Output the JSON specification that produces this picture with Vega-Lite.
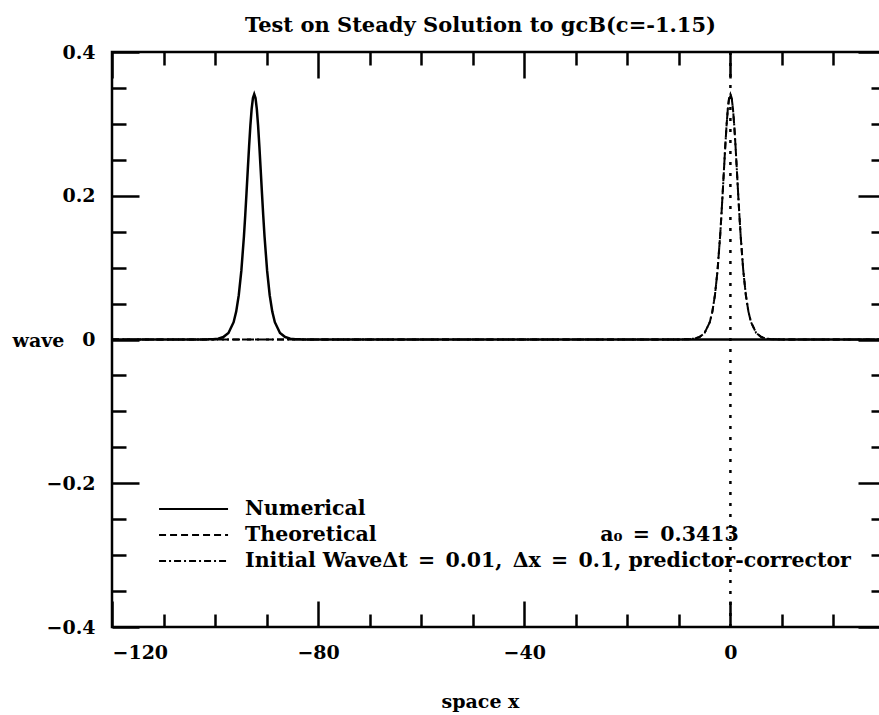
{
  "$schema": "https://vega.github.io/schema/vega-lite/v6.json",
  "width": 773,
  "height": 575,
  "autosize": {"type": "none"},
  "padding": {"left": 112, "top": 52, "right": 0, "bottom": 88},
  "background": "white",
  "config": {
    "view": {"stroke": "black", "strokeWidth": 2.5},
    "font": "DejaVu Serif",
    "axis": {
      "domain": false,
      "grid": false,
      "tickColor": "black",
      "tickWidth": 2.5,
      "labelFont": "DejaVu Serif",
      "labelFontWeight": "bold",
      "labelFontSize": 19,
      "labelColor": "black",
      "titleFont": "DejaVu Serif",
      "titleFontWeight": "bold",
      "titleFontSize": 19,
      "titleColor": "black"
    }
  },
  "title": {
    "text": "Test on Steady Solution to gcB(c=-1.15)",
    "font": "DejaVu Serif",
    "fontSize": 21,
    "fontWeight": "bold",
    "color": "black",
    "anchor": "middle",
    "baseline": "bottom",
    "offset": 16,
    "dx": -18,
    "dy": 30
  },
  "datasets": {
    "curves": [
      {"series": "Numerical", "x": -120, "wave": 0},
      {"series": "Numerical", "x": -102.4, "wave": 0.0001},
      {"series": "Numerical", "x": -101.4, "wave": 0.0002},
      {"series": "Numerical", "x": -100.4, "wave": 0.0005},
      {"series": "Numerical", "x": -99.4, "wave": 0.0012},
      {"series": "Numerical", "x": -98.4, "wave": 0.0034},
      {"series": "Numerical", "x": -97.4, "wave": 0.0091},
      {"series": "Numerical", "x": -96.4, "wave": 0.0241},
      {"series": "Numerical", "x": -95.9, "wave": 0.0388},
      {"series": "Numerical", "x": -95.4, "wave": 0.0617},
      {"series": "Numerical", "x": -94.9, "wave": 0.0957},
      {"series": "Numerical", "x": -94.4, "wave": 0.1433},
      {"series": "Numerical", "x": -94.15, "wave": 0.1722},
      {"series": "Numerical", "x": -93.9, "wave": 0.2036},
      {"series": "Numerical", "x": -93.65, "wave": 0.2363},
      {"series": "Numerical", "x": -93.4, "wave": 0.2684},
      {"series": "Numerical", "x": -93.15, "wave": 0.2975},
      {"series": "Numerical", "x": -92.9, "wave": 0.3208},
      {"series": "Numerical", "x": -92.65, "wave": 0.336},
      {"series": "Numerical", "x": -92.4, "wave": 0.3413},
      {"series": "Numerical", "x": -92.15, "wave": 0.336},
      {"series": "Numerical", "x": -91.9, "wave": 0.3208},
      {"series": "Numerical", "x": -91.65, "wave": 0.2975},
      {"series": "Numerical", "x": -91.4, "wave": 0.2684},
      {"series": "Numerical", "x": -91.15, "wave": 0.2363},
      {"series": "Numerical", "x": -90.9, "wave": 0.2036},
      {"series": "Numerical", "x": -90.65, "wave": 0.1722},
      {"series": "Numerical", "x": -90.4, "wave": 0.1433},
      {"series": "Numerical", "x": -89.9, "wave": 0.0957},
      {"series": "Numerical", "x": -89.4, "wave": 0.0617},
      {"series": "Numerical", "x": -88.9, "wave": 0.0388},
      {"series": "Numerical", "x": -88.4, "wave": 0.0241},
      {"series": "Numerical", "x": -87.4, "wave": 0.0091},
      {"series": "Numerical", "x": -86.4, "wave": 0.0034},
      {"series": "Numerical", "x": -85.4, "wave": 0.0012},
      {"series": "Numerical", "x": -84.4, "wave": 0.0005},
      {"series": "Numerical", "x": -83.4, "wave": 0.0002},
      {"series": "Numerical", "x": -82.4, "wave": 0.0001},
      {"series": "Numerical", "x": 30, "wave": 0},

      {"series": "Theoretical", "x": -120, "wave": 0},
      {"series": "Theoretical", "x": -10, "wave": 0.0001},
      {"series": "Theoretical", "x": -9, "wave": 0.0002},
      {"series": "Theoretical", "x": -8, "wave": 0.0005},
      {"series": "Theoretical", "x": -7, "wave": 0.0012},
      {"series": "Theoretical", "x": -6, "wave": 0.0034},
      {"series": "Theoretical", "x": -5, "wave": 0.0091},
      {"series": "Theoretical", "x": -4, "wave": 0.0241},
      {"series": "Theoretical", "x": -3.5, "wave": 0.0388},
      {"series": "Theoretical", "x": -3, "wave": 0.0617},
      {"series": "Theoretical", "x": -2.5, "wave": 0.0957},
      {"series": "Theoretical", "x": -2, "wave": 0.1433},
      {"series": "Theoretical", "x": -1.75, "wave": 0.1722},
      {"series": "Theoretical", "x": -1.5, "wave": 0.2036},
      {"series": "Theoretical", "x": -1.25, "wave": 0.2363},
      {"series": "Theoretical", "x": -1, "wave": 0.2684},
      {"series": "Theoretical", "x": -0.75, "wave": 0.2975},
      {"series": "Theoretical", "x": -0.5, "wave": 0.3208},
      {"series": "Theoretical", "x": -0.25, "wave": 0.336},
      {"series": "Theoretical", "x": 0, "wave": 0.3413},
      {"series": "Theoretical", "x": 0.25, "wave": 0.336},
      {"series": "Theoretical", "x": 0.5, "wave": 0.3208},
      {"series": "Theoretical", "x": 0.75, "wave": 0.2975},
      {"series": "Theoretical", "x": 1, "wave": 0.2684},
      {"series": "Theoretical", "x": 1.25, "wave": 0.2363},
      {"series": "Theoretical", "x": 1.5, "wave": 0.2036},
      {"series": "Theoretical", "x": 1.75, "wave": 0.1722},
      {"series": "Theoretical", "x": 2, "wave": 0.1433},
      {"series": "Theoretical", "x": 2.5, "wave": 0.0957},
      {"series": "Theoretical", "x": 3, "wave": 0.0617},
      {"series": "Theoretical", "x": 3.5, "wave": 0.0388},
      {"series": "Theoretical", "x": 4, "wave": 0.0241},
      {"series": "Theoretical", "x": 5, "wave": 0.0091},
      {"series": "Theoretical", "x": 6, "wave": 0.0034},
      {"series": "Theoretical", "x": 7, "wave": 0.0012},
      {"series": "Theoretical", "x": 8, "wave": 0.0005},
      {"series": "Theoretical", "x": 9, "wave": 0.0002},
      {"series": "Theoretical", "x": 10, "wave": 0.0001},
      {"series": "Theoretical", "x": 30, "wave": 0},

      {"series": "Initial", "x": -120, "wave": 0},
      {"series": "Initial", "x": -10, "wave": 0.0001},
      {"series": "Initial", "x": -9, "wave": 0.0002},
      {"series": "Initial", "x": -8, "wave": 0.0005},
      {"series": "Initial", "x": -7, "wave": 0.0012},
      {"series": "Initial", "x": -6, "wave": 0.0034},
      {"series": "Initial", "x": -5, "wave": 0.0091},
      {"series": "Initial", "x": -4, "wave": 0.0241},
      {"series": "Initial", "x": -3.5, "wave": 0.0388},
      {"series": "Initial", "x": -3, "wave": 0.0617},
      {"series": "Initial", "x": -2.5, "wave": 0.0957},
      {"series": "Initial", "x": -2, "wave": 0.1433},
      {"series": "Initial", "x": -1.75, "wave": 0.1722},
      {"series": "Initial", "x": -1.5, "wave": 0.2036},
      {"series": "Initial", "x": -1.25, "wave": 0.2363},
      {"series": "Initial", "x": -1, "wave": 0.2684},
      {"series": "Initial", "x": -0.75, "wave": 0.2975},
      {"series": "Initial", "x": -0.5, "wave": 0.3208},
      {"series": "Initial", "x": -0.25, "wave": 0.336},
      {"series": "Initial", "x": 0, "wave": 0.3413},
      {"series": "Initial", "x": 0.25, "wave": 0.336},
      {"series": "Initial", "x": 0.5, "wave": 0.3208},
      {"series": "Initial", "x": 0.75, "wave": 0.2975},
      {"series": "Initial", "x": 1, "wave": 0.2684},
      {"series": "Initial", "x": 1.25, "wave": 0.2363},
      {"series": "Initial", "x": 1.5, "wave": 0.2036},
      {"series": "Initial", "x": 1.75, "wave": 0.1722},
      {"series": "Initial", "x": 2, "wave": 0.1433},
      {"series": "Initial", "x": 2.5, "wave": 0.0957},
      {"series": "Initial", "x": 3, "wave": 0.0617},
      {"series": "Initial", "x": 3.5, "wave": 0.0388},
      {"series": "Initial", "x": 4, "wave": 0.0241},
      {"series": "Initial", "x": 5, "wave": 0.0091},
      {"series": "Initial", "x": 6, "wave": 0.0034},
      {"series": "Initial", "x": 7, "wave": 0.0012},
      {"series": "Initial", "x": 8, "wave": 0.0005},
      {"series": "Initial", "x": 9, "wave": 0.0002},
      {"series": "Initial", "x": 10, "wave": 0.0001},
      {"series": "Initial", "x": 30, "wave": 0}
    ],
    "legendLines": [
      {"series": "Numerical", "x": -110.87, "wave": -0.2358},
      {"series": "Numerical", "x": -97.48, "wave": -0.2358},
      {"series": "Theoretical", "x": -110.87, "wave": -0.272},
      {"series": "Theoretical", "x": -97.48, "wave": -0.272},
      {"series": "Initial", "x": -110.87, "wave": -0.3082},
      {"series": "Initial", "x": -97.48, "wave": -0.3082}
    ],
    "legendText": [
      {"label": "Numerical", "x": -94.17, "wave": -0.2358},
      {"label": "Theoretical", "x": -94.17, "wave": -0.272},
      {"label": "Initial WaveΔt\u2002=\u20020.01,\u2002Δx\u2002=\u20020.1, predictor-corrector", "x": -94.17, "wave": -0.3082},
      {"label": "a₀\u2002=\u20020.3413", "x": -25.24, "wave": -0.272}
    ],
    "vline": [{"x": 0}]
  },
  "resolve": {"axis": {"x": "independent", "y": "independent"}},
  "layer": [
    {
      "data": {"name": "curves"},
      "transform": [{"filter": "datum.series === 'Numerical'"}],
      "mark": {"type": "line", "color": "black", "strokeWidth": 2.5},
      "encoding": {
        "x": {
          "field": "x", "type": "quantitative",
          "scale": {"domain": [-120, 30], "nice": false, "zero": false},
          "axis": {
            "orient": "bottom",
            "values": [-120, -110, -100, -90, -80, -70, -60, -50, -40, -30, -20, -10, 0, 10, 20, 30],
            "format": "d",
            "labelExpr": "datum.value % 40 === 0 ? datum.label : ''",
            "tickSize": {"expr": "datum.value % 40 === 0 ? -26 : -13"},
            "labelPadding": 42,
            "title": "space x",
            "titleX": 368,
            "titleY": 80,
            "titleAnchor": null,
            "titleAlign": "center",
            "titleBaseline": "alphabetic"
          }
        },
        "y": {
          "field": "wave", "type": "quantitative",
          "scale": {"domain": [-0.4, 0.4], "nice": false, "zero": false},
          "axis": {
            "orient": "left",
            "values": [-0.4, -0.35, -0.3, -0.25, -0.2, -0.15, -0.1, -0.05, 0, 0.05, 0.1, 0.15, 0.2, 0.25, 0.3, 0.35, 0.4],
            "format": "~g",
            "labelExpr": "abs(datum.value * 5 - round(datum.value * 5)) < 0.001 ? datum.label : ''",
            "tickSize": {"expr": "abs(datum.value * 5 - round(datum.value * 5)) < 0.001 ? -27 : -14"},
            "labelPadding": 44,
            "title": "wave",
            "titleAngle": 0,
            "titleX": -74,
            "titleY": 288,
            "titleAlign": "center",
            "titleBaseline": "middle",
            "titleAnchor": null
          }
        }
      }
    },
    {
      "data": {"name": "curves"},
      "transform": [{"filter": "datum.series === 'Theoretical'"}],
      "mark": {"type": "line", "color": "black", "strokeWidth": 2, "strokeDash": [7, 4]},
      "encoding": {
        "x": {
          "field": "x", "type": "quantitative",
          "axis": {
            "orient": "top",
            "values": [-120, -110, -100, -90, -80, -70, -60, -50, -40, -30, -20, -10, 0, 10, 20, 30],
            "labels": false,
            "tickSize": {"expr": "datum.value % 40 === 0 ? -26 : -13"},
            "title": null
          }
        },
        "y": {
          "field": "wave", "type": "quantitative",
          "axis": {
            "orient": "right",
            "values": [-0.4, -0.35, -0.3, -0.25, -0.2, -0.15, -0.1, -0.05, 0, 0.05, 0.1, 0.15, 0.2, 0.25, 0.3, 0.35, 0.4],
            "labels": false,
            "tickSize": {"expr": "abs(datum.value * 5 - round(datum.value * 5)) < 0.001 ? -27 : -14"},
            "title": null
          }
        }
      }
    },
    {
      "data": {"name": "curves"},
      "transform": [{"filter": "datum.series === 'Initial'"}],
      "mark": {"type": "line", "color": "black", "strokeWidth": 2, "strokeDash": [7, 3, 2, 3]},
      "encoding": {
        "x": {"field": "x", "type": "quantitative", "axis": null},
        "y": {"field": "wave", "type": "quantitative", "axis": null}
      }
    },
    {
      "data": {"name": "vline"},
      "mark": {"type": "rule", "color": "black", "strokeWidth": 2.5, "strokeDash": [3, 8]},
      "encoding": {
        "x": {"field": "x", "type": "quantitative", "axis": null}
      }
    },
    {
      "data": {"name": "legendLines"},
      "mark": {"type": "line", "color": "black", "strokeWidth": 2},
      "encoding": {
        "x": {"field": "x", "type": "quantitative", "axis": null},
        "y": {"field": "wave", "type": "quantitative", "axis": null},
        "strokeDash": {
          "field": "series", "type": "nominal",
          "scale": {"domain": ["Numerical", "Theoretical", "Initial"], "range": [[1, 0], [7, 4], [7, 3, 2, 3]]},
          "legend": null
        }
      }
    },
    {
      "data": {"name": "legendText"},
      "mark": {"type": "text", "align": "left", "baseline": "middle", "font": "DejaVu Serif", "fontSize": 20.5, "fontWeight": "bold", "color": "black"},
      "encoding": {
        "x": {"field": "x", "type": "quantitative", "axis": null},
        "y": {"field": "wave", "type": "quantitative", "axis": null},
        "text": {"field": "label"}
      }
    }
  ]
}
